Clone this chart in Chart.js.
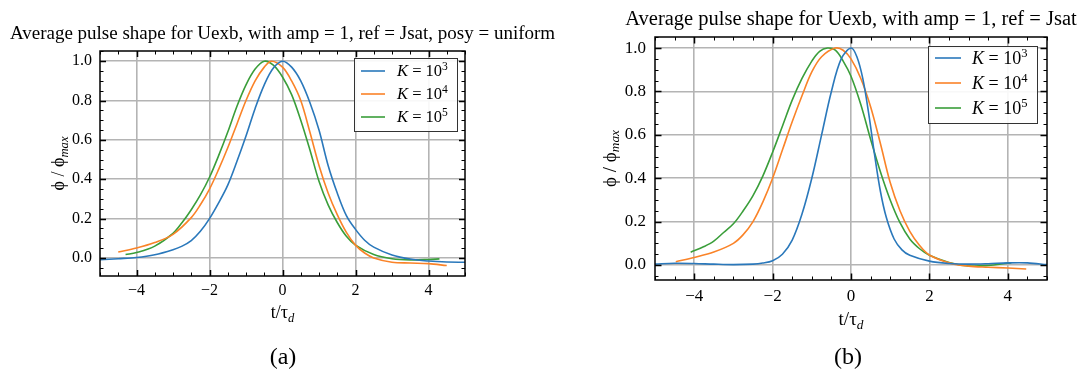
<!DOCTYPE html>
<html>
<head>
<meta charset="utf-8">
<script src="https://cdn.jsdelivr.net/npm/chart.js@4/dist/chart.umd.min.js"></script>
<style>
  body { margin: 0; background: #fff; }
  #wrap { position: relative; width: 1083px; height: 372px; }
  #wrap canvas { position: absolute; left: 0; top: 0; }
</style>
</head>
<body>
<div id="wrap">
  <canvas id="chartA" width="1083" height="372"></canvas>
  <canvas id="chartB" width="1083" height="372"></canvas>
</div>
<script>
// tick labels and legend names
const xTickVals = [-4, -2, 0, 2, 4];
const yTickVals = [0, 0.2, 0.4, 0.6, 0.8, 1.0];
const seriesNames = ['K = 10^3', 'K = 10^4', 'K = 10^5'];

// (a) posy = uniform
const tA3 = [-5, -4.5, -4, -3.5, -3, -2.75, -2.5, -2.25, -2, -1.75, -1.5, -1.25, -1, -0.75, -0.5, -0.25, 0, 0.25, 0.5, 0.75, 1, 1.25, 1.5, 1.75, 2, 2.25, 2.5, 3, 3.5, 4, 4.5, 5];
const phiA3 = [-0.009, -0.004, 0.002, 0.016, 0.042, 0.06, 0.088, 0.135, 0.2, 0.28, 0.37, 0.49, 0.62, 0.76, 0.88, 0.965, 1.0, 0.97, 0.9, 0.79, 0.65, 0.47, 0.33, 0.215, 0.145, 0.09, 0.055, 0.015, -0.006, -0.016, -0.021, -0.022];
const tA4 = [-4.5, -4, -3.5, -3, -2.5, -2.25, -2, -1.75, -1.5, -1.25, -1, -0.75, -0.5, -0.3, 0, 0.25, 0.5, 0.75, 1, 1.25, 1.5, 1.75, 2, 2.25, 2.5, 3, 3.5, 4, 4.5];
const phiA4 = [0.03, 0.05, 0.078, 0.12, 0.205, 0.27, 0.35, 0.45, 0.56, 0.68, 0.8, 0.9, 0.97, 1.0, 0.97, 0.9, 0.8, 0.64, 0.47, 0.33, 0.22, 0.13, 0.065, 0.025, 0.0, -0.022, -0.026, -0.029, -0.039];
const tA5 = [-4.3, -4, -3.5, -3, -2.75, -2.5, -2.25, -2, -1.75, -1.5, -1.25, -1, -0.75, -0.5, -0.25, 0, 0.25, 0.5, 0.75, 1, 1.25, 1.5, 1.75, 2, 2.5, 3, 3.5, 4, 4.3];
const phiA5 = [0.017, 0.027, 0.06, 0.125, 0.18, 0.245, 0.32, 0.41, 0.52, 0.64, 0.77, 0.88, 0.96, 1.0, 0.98, 0.92, 0.83, 0.7, 0.55, 0.39, 0.27, 0.18, 0.11, 0.065, 0.017, -0.004, -0.01, -0.008, -0.005];

// (b) without posy
const tB3 = [-5, -4.5, -4, -3.5, -3, -2.5, -2.25, -2, -1.75, -1.5, -1.25, -1, -0.75, -0.5, -0.25, 0, 0.15, 0.3, 0.45, 0.6, 0.75, 0.9, 1.1, 1.3, 1.5, 2, 2.5, 3, 3.5, 4, 4.5, 5];
const phiB3 = [0.004, 0.008, 0.007, 0.004, 0.002, 0.004, 0.009, 0.02, 0.05, 0.115, 0.235, 0.4, 0.6, 0.8, 0.95, 1.0, 0.96, 0.86, 0.7, 0.51, 0.34, 0.22, 0.12, 0.07, 0.045, 0.018, 0.007, 0.004, 0.006, 0.01, 0.01, 0.002];
const tB4 = [-4.47, -4, -3.5, -3, -2.75, -2.5, -2.25, -2, -1.75, -1.5, -1.25, -1, -0.75, -0.4, -0.2, 0, 0.25, 0.5, 0.75, 1, 1.25, 1.5, 1.75, 2, 2.5, 3, 3.5, 4, 4.47];
const phiB4 = [0.015, 0.035, 0.06, 0.1, 0.14, 0.2, 0.29, 0.4, 0.53, 0.66, 0.78, 0.89, 0.96, 1.0, 0.99, 0.95, 0.86, 0.73, 0.56, 0.38, 0.25, 0.155, 0.09, 0.046, 0.01, -0.005, -0.01, -0.014, -0.018];
const tB5 = [-4.09, -3.75, -3.5, -3.25, -3, -2.75, -2.5, -2.25, -2, -1.75, -1.5, -1.25, -1, -0.8, -0.6, -0.4, -0.2, 0, 0.25, 0.5, 0.75, 1, 1.25, 1.5, 1.75, 2, 2.5, 3, 3.5, 4, 4.09];
const phiB5 = [0.059, 0.085, 0.11, 0.15, 0.19, 0.25, 0.32, 0.41, 0.52, 0.64, 0.76, 0.86, 0.94, 0.985, 1.0, 0.99, 0.94, 0.87, 0.74, 0.58, 0.43, 0.3, 0.195, 0.12, 0.075, 0.045, 0.012, -0.004, -0.002, 0.008, 0.01];

const SERIF = "'Liberation Serif', 'DejaVu Serif', serif";
const colors = ['#2a78bb', '#fa8328', '#3a9e3a'];

function pairs(t, phi) {
  return t.map((v, i) => ({ x: v, y: phi[i] }));
}

// draw a run of text pieces with their own fonts / vertical offsets
function drawRich(ctx, parts, x, y, align) {
  let w = 0;
  parts.forEach(p => { ctx.font = p.font; p.w = ctx.measureText(p.text).width; w += p.w; });
  let cx = align === 'left' ? x : x - w / 2;
  ctx.textAlign = 'left';
  parts.forEach(p => {
    ctx.font = p.font;
    ctx.fillText(p.text, cx, y + (p.dy || 0));
    cx += p.w;
  });
}

function fmtTick(v) {
  return v < 0 ? '\u2212' + Math.abs(v) : String(v);
}

// frame, inward ticks, legend and the text around the axes
function decor(L) {
  return {
    id: 'decor',
    afterDraw(chart) {
      const ctx = chart.ctx;
      const { left, right, top, bottom } = chart.chartArea;
      const xs = chart.scales.x, ys = chart.scales.y;
      ctx.save();
      ctx.strokeStyle = '#000';
      ctx.lineWidth = 1;

      const tickX = (v, len) => {
        const px = Math.round(xs.getPixelForValue(v)) + 0.5;
        ctx.beginPath();
        ctx.moveTo(px, bottom); ctx.lineTo(px, bottom - len);
        ctx.moveTo(px, top); ctx.lineTo(px, top + len);
        ctx.stroke();
      };
      const tickY = (v, len) => {
        const py = Math.round(ys.getPixelForValue(v)) + 0.5;
        ctx.beginPath();
        ctx.moveTo(left, py); ctx.lineTo(left + len, py);
        ctx.moveTo(right, py); ctx.lineTo(right - len, py);
        ctx.stroke();
      };
      for (let k = Math.ceil(xs.min * 2); k <= Math.floor(xs.max * 2); k++) tickX(k / 2, L.minor);
      for (let k = Math.ceil(ys.min * 20); k <= Math.floor(ys.max * 20); k++) tickY(k / 20, L.minor);
      ctx.lineWidth = 1.5;
      xTickVals.forEach(v => tickX(v, L.major));
      yTickVals.forEach(v => tickY(v, L.major));

      ctx.lineWidth = 1.5;
      ctx.strokeRect(left, top, right - left, bottom - top);

      // legend
      const lg = L.legend;
      ctx.fillStyle = 'rgba(255,255,255,0.9)';
      ctx.fillRect(lg.left, lg.top, lg.right - lg.left, lg.bottom - lg.top);
      ctx.strokeStyle = '#333';
      ctx.lineWidth = 1;
      ctx.strokeRect(lg.left + 0.5, lg.top + 0.5, lg.right - lg.left, lg.bottom - lg.top);
      ctx.textBaseline = 'alphabetic';
      chart.data.datasets.forEach((ds, i) => {
        const ry = lg.row0 + i * lg.gap;
        ctx.strokeStyle = ds.borderColor;
        ctx.lineWidth = ds.borderWidth;
        ctx.beginPath();
        ctx.moveTo(lg.line0, ry); ctx.lineTo(lg.line1, ry);
        ctx.stroke();
        const [sym, pow] = ds.label.split(' = ');
        const [base, exp] = pow.split('^');
        ctx.fillStyle = '#000';
        drawRich(ctx, [
          { text: sym, font: `italic ${lg.size}px ${SERIF}` },
          { text: ' = ' + base, font: `${lg.size}px ${SERIF}` },
          { text: exp, font: `${lg.size * 0.7}px ${SERIF}`, dy: -lg.size * 0.38 }
        ], lg.text, ry + lg.size * 0.33, 'left');
      });

      // title, axis labels, caption
      ctx.fillStyle = '#000';
      const cx = (left + right) / 2;
      ctx.font = `${L.titleSize}px ${SERIF}`;
      ctx.textAlign = 'center';
      ctx.fillText(L.title, cx, L.titleY);

      const s = L.labelSize;
      drawRich(ctx, [
        { text: 't/\u03c4', font: `${s}px ${SERIF}` },
        { text: 'd', font: `italic ${s * 0.7}px ${SERIF}`, dy: s * 0.2 }
      ], cx, L.xlabelY);

      ctx.save();
      ctx.translate(L.ylabelX, (top + bottom) / 2);
      ctx.rotate(-Math.PI / 2);
      drawRich(ctx, [
        { text: '\u03d5 / \u03d5', font: `${s}px ${SERIF}` },
        { text: 'max', font: `italic ${s * 0.7}px ${SERIF}`, dy: s * 0.2 }
      ], 0, s * 0.35);
      ctx.restore();

      ctx.font = `${L.captionSize}px ${SERIF}`;
      ctx.textAlign = 'center';
      ctx.fillText(L.caption, L.captionX, L.captionY);
      ctx.restore();
    }
  };
}

function makeChart(id, series, L) {
  const W = 1083, H = 372, yW = 60, xH = 40;
  const a = L.area;
  return new Chart(document.getElementById(id), {
    type: 'line',
    data: {
      datasets: series.map((d, i) => ({
        label: seriesNames[i],
        data: d,
        borderColor: colors[i],
        borderWidth: 1.6,
        pointRadius: 0,
        tension: 0.35,
        fill: false
      }))
    },
    options: {
      responsive: false,
      animation: false,
      events: [],
      layout: {
        padding: { left: a.left - yW, top: a.top, right: W - a.right, bottom: H - a.bottom - xH }
      },
      plugins: { legend: { display: false }, tooltip: { enabled: false } },
      scales: {
        x: {
          type: 'linear',
          min: -5, max: 5,
          afterBuildTicks: sc => { sc.ticks = xTickVals.map(v => ({ value: v })); },
          afterFit: sc => { sc.height = xH; },
          grid: { color: '#b4b4b4', lineWidth: 1.6, drawTicks: false },
          border: { display: false },
          ticks: { color: '#000', padding: L.padX, font: { family: SERIF, size: L.tickSize }, callback: fmtTick, maxRotation: 0 }
        },
        y: {
          min: L.yMin, max: L.yMax,
          afterBuildTicks: sc => { sc.ticks = yTickVals.map(v => ({ value: v })); },
          afterFit: sc => { sc.width = yW; },
          grid: { color: '#b4b4b4', lineWidth: 1.6, drawTicks: false },
          border: { display: false },
          ticks: { color: '#000', padding: L.padY, font: { family: SERIF, size: L.tickSize }, callback: v => v.toFixed(1) }
        }
      }
    },
    plugins: [decor(L)]
  });
}

makeChart('chartA', [pairs(tA3, phiA3), pairs(tA4, phiA4), pairs(tA5, phiA5)], {
  area: { left: 100, top: 51, right: 465, bottom: 276 },
  yMin: -0.092, yMax: 1.052,
  tickSize: 16, padX: 5, padY: 8, major: 6, minor: 3.5,
  title: 'Average pulse shape for Uexb, with amp = 1, ref = Jsat, posy = uniform',
  titleSize: 19, titleY: 39,
  labelSize: 18, xlabelY: 318, ylabelX: 58,
  caption: '(a)', captionSize: 24, captionX: 283, captionY: 364,
  legend: { left: 354, top: 58, right: 457, bottom: 131, row0: 71, gap: 23, line0: 361, line1: 385, text: 397, size: 16.5 }
});

makeChart('chartB', [pairs(tB3, phiB3), pairs(tB4, phiB4), pairs(tB5, phiB5)], {
  area: { left: 655, top: 37, right: 1047, bottom: 280 },
  yMin: -0.069, yMax: 1.051,
  tickSize: 17, padX: 6, padY: 9, major: 6.5, minor: 3.5,
  title: 'Average pulse shape for Uexb, with amp = 1, ref = Jsat',
  titleSize: 20.5, titleY: 25,
  labelSize: 19, xlabelY: 325, ylabelX: 609,
  caption: '(b)', captionSize: 24, captionX: 848, captionY: 364,
  legend: { left: 928, top: 46, right: 1037, bottom: 123, row0: 58, gap: 25, line0: 935, line1: 961, text: 972, size: 18 }
});
</script>
</body>
</html>
